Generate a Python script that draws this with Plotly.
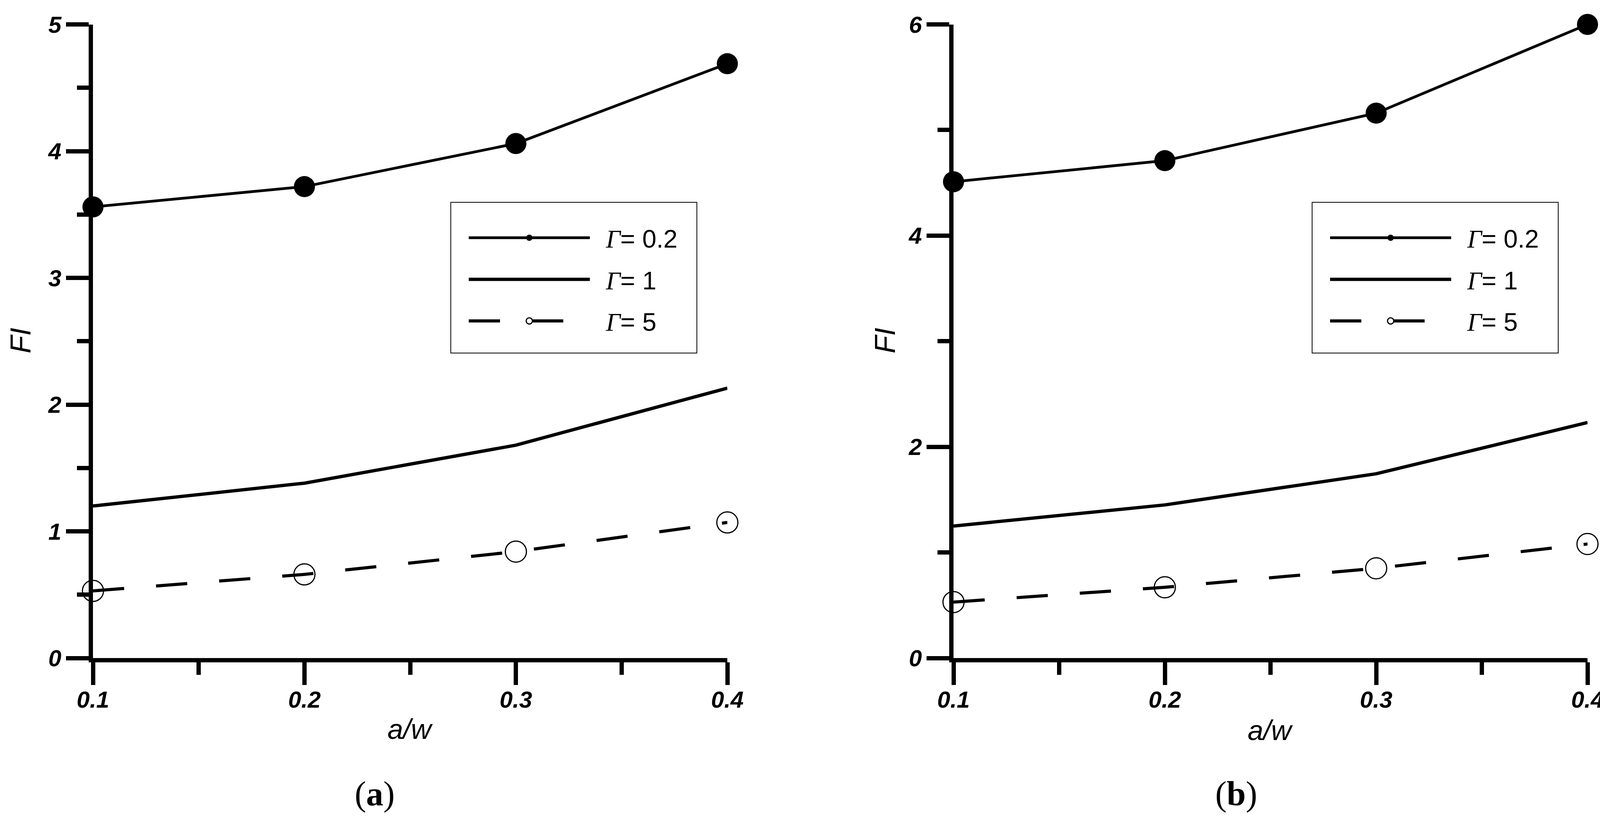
import plotly.graph_objects as go

# ---------------- data ----------------
aw = [0.1, 0.2, 0.3, 0.4]

a_gamma02 = [3.56, 3.72, 4.06, 4.69]
a_gamma1 = [1.20, 1.38, 1.68, 2.13]
a_gamma5 = [0.53, 0.66, 0.84, 1.07]

b_gamma02 = [4.51, 4.71, 5.16, 6.00]
b_gamma1 = [1.25, 1.45, 1.745, 2.23]
b_gamma5 = [0.53, 0.67, 0.85, 1.08]

GAMMA = "<i><span style='font-family:Liberation Serif'>Γ</span></i>"
series_names = ["\u00a0\u00a0" + GAMMA + "= 0.2",
                "\u00a0\u00a0" + GAMMA + "= 1",
                "\u00a0\u00a0" + GAMMA + "= 5"]

x_ticks = [0.1, 0.2, 0.3, 0.4]
a_yticks = [0, 1, 2, 3, 4, 5]
b_yticks = [0, 2, 4, 6]

# ---------------- layout constants ----------------
W, H = 4132, 2092
SANS = "Liberation Sans"
SERIF = "Liberation Serif"

def px_x(p):
    return p / W

def px_y(p):
    return 1 - p / H

fig = go.Figure()

def add_panel(ys, xref, yref, legend):
    g02, g1, g5 = ys
    fig.add_trace(go.Scatter(
        x=aw, y=g02, mode="lines+markers", name=series_names[0],
        line=dict(color="black", width=7),
        marker=dict(color="black", size=54, symbol="circle"),
        xaxis=xref, yaxis=yref, legend=legend, legendgroup=legend + "g1",
        cliponaxis=False))
    fig.add_trace(go.Scatter(
        x=aw, y=g1, mode="lines", name=series_names[1],
        line=dict(color="black", width=8.5),
        xaxis=xref, yaxis=yref, legend=legend, legendgroup=legend + "g2",
        cliponaxis=False))
    fig.add_trace(go.Scatter(
        x=aw, y=g5, mode="lines+markers", name=series_names[2],
        line=dict(color="black", width=8, dash="80px,82px"),
        marker=dict(color="black", size=54, symbol="circle-open",
                    line=dict(color="black", width=3)),
        xaxis=xref, yaxis=yref, legend=legend, legendgroup=legend + "g3",
        cliponaxis=False))

add_panel((a_gamma02, a_gamma1, a_gamma5), "x", "y", "legend")
add_panel((b_gamma02, b_gamma1, b_gamma5), "x2", "y2", "legend2")

tickfont = dict(family=SANS, size=60, color="black", weight="bold", style="italic")

def xaxis_cfg(domain):
    return dict(
        domain=domain, range=[0.1, 0.4], tickvals=x_ticks,
        ticktext=[f"{v:.1f}" for v in x_ticks],
        showline=True, linecolor="black", linewidth=11,
        ticks="outside", ticklen=58, tickwidth=11, tickcolor="black",
        ticklabelstandoff=-14,
        minor=dict(ticks="outside", ticklen=32, tickwidth=11, tickcolor="black",
                   dtick=0.05, tick0=0.1),
        showgrid=False, zeroline=False, tickfont=tickfont, automargin=False,
        fixedrange=True)

def yaxis_cfg(domain, rng, tickv, minor_dtick, anchor):
    return dict(
        domain=domain, range=rng, tickvals=tickv, anchor=anchor,
        showline=True, linecolor="black", linewidth=11,
        ticks="outside", ticklen=58, tickwidth=11, tickcolor="black",
        minor=dict(ticks="outside", ticklen=30, tickwidth=11, tickcolor="black",
                   dtick=minor_dtick, tick0=0),
        showgrid=False, zeroline=False, tickfont=tickfont, automargin=False,
        fixedrange=True)

ydom = [px_y(1685), px_y(62.5)]

legend_common = dict(
    xanchor="left", yanchor="top", bgcolor="rgba(0,0,0,0)",
    borderwidth=0,
    font=dict(family=SANS, size=65, color="black"),
    itemwidth=310, tracegroupgap=19, traceorder="grouped",
)

fig.update_layout(
    width=W, height=H,
    margin=dict(l=0, r=0, t=0, b=0),
    paper_bgcolor="white", plot_bgcolor="white",
    xaxis=dict(**xaxis_cfg([px_x(238), px_x(1862)]), anchor="y"),
    yaxis=yaxis_cfg(ydom, [0, 5], a_yticks, 0.5, "x"),
    xaxis2=dict(**xaxis_cfg([px_x(2441), px_x(4064)]), anchor="y2"),
    yaxis2=yaxis_cfg(ydom, [0, 6], b_yticks, 1, "x2"),
    legend=dict(x=px_x(1195), y=px_y(560), **legend_common),
    legend2=dict(x=px_x(3400), y=px_y(560), **legend_common),
    showlegend=True,
)

# legend frames
for left in (1154, 3359):
    fig.add_shape(type="rect", xref="paper", yref="paper",
                  x0=px_x(left), x1=px_x(left + 630),
                  y0=px_y(904), y1=px_y(518),
                  line=dict(color="black", width=2), fillcolor="rgba(0,0,0,0)",
                  layer="below")

annots = [
    dict(text="FI", x=px_x(52), y=px_y(872), textangle=-90,
         font=dict(family=SANS, size=74, style="italic", color="black")),
    dict(text="FI", x=px_x(2265), y=px_y(872), textangle=-90,
         font=dict(family=SANS, size=74, style="italic", color="black")),
    dict(text="a/w", x=px_x(1050), y=px_y(1867),
         font=dict(family=SANS, size=72, style="italic", color="black")),
    dict(text="a/w", x=px_x(3252), y=px_y(1870),
         font=dict(family=SANS, size=72, style="italic", color="black")),
    dict(text="(<b>a</b>)", x=px_x(959), y=px_y(2032),
         font=dict(family=SERIF, size=88, color="black")),
    dict(text="(<b>b</b>)", x=px_x(3165), y=px_y(2032),
         font=dict(family=SERIF, size=88, color="black")),
]
for a in annots:
    fig.add_annotation(xref="paper", yref="paper", showarrow=False,
                       xanchor="center", yanchor="middle", **a)

page_css = ("document.body.style.margin='0';"
            "document.body.style.overflow='hidden';"
            "document.documentElement.style.overflow='hidden';")

fig.write_html("out.html", post_script=page_css,
               config={"displayModeBar": False, "staticPlot": True})
